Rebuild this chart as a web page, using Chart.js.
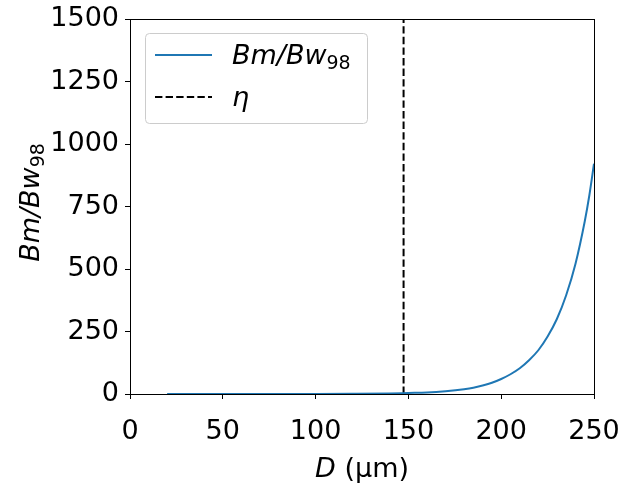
<!DOCTYPE html>
<html>
<head>
<meta charset="utf-8">
<script src="https://cdn.jsdelivr.net/npm/chart.js@4"></script>
<style>
  html, body { margin: 0; padding: 0; background: #fff; }
  canvas { display: block; }
</style>
</head>
<body>
<canvas id="grafico" width="623" height="485"></canvas>
<script>
// datos
const diametros = [20, 50, 80, 100, 120, 140, 150, 160, 170, 180, 185, 190, 195, 200, 205, 210, 215, 220, 225, 230, 235, 240, 245, 247.5, 250];
const razonBm = [0, 0, 0.1, 0.2, 0.6, 2, 4, 6, 11, 19, 25, 34, 45, 60, 79, 103, 135, 175, 230, 300, 395, 520, 690, 795, 921];
const etaD = 147.4;
const etaRango = [0, 1500];
const ticksX = [0, 50, 100, 150, 200, 250];
const ticksY = [0, 250, 500, 750, 1000, 1250, 1500];

const FUENTE = "DejaVu Sans";
const AZUL = "#1f77b4";

// textos con cursiva y subindice
function textoBm(ctx, x, y, align) {
  ctx.font = "italic 27px '" + FUENTE + "'";
  const w1 = ctx.measureText("Bm/Bw").width;
  ctx.font = "19px '" + FUENTE + "'";
  const w2 = ctx.measureText("98").width;
  let x0 = x;
  if (align === "center") x0 = x - (w1 + w2) / 2;
  ctx.textAlign = "left";
  ctx.textBaseline = "alphabetic";
  ctx.font = "italic 27px '" + FUENTE + "'";
  ctx.fillText("Bm/Bw", x0, y);
  ctx.font = "19px '" + FUENTE + "'";
  ctx.fillText("98", x0 + w1, y + 5);
}

const extras = {
  id: "extras",
  afterDraw(chart) {
    const ctx = chart.ctx;
    const a = chart.chartArea;
    ctx.save();
    ctx.fillStyle = "#000";

    // marco
    ctx.strokeStyle = "#000";
    ctx.lineWidth = 1;
    ctx.strokeRect(Math.round(a.left) + 0.5, Math.round(a.top) + 0.5,
      Math.round(a.right - a.left), Math.round(a.bottom - a.top));

    // titulo eje x
    ctx.textBaseline = "alphabetic";
    ctx.font = "italic 27px '" + FUENTE + "'";
    const wD = ctx.measureText("D").width;
    ctx.font = "27px '" + FUENTE + "'";
    const wR = ctx.measureText(" (\u00b5m)").width;
    const cx = (a.left + a.right) / 2;
    let x0 = cx - (wD + wR) / 2;
    ctx.textAlign = "left";
    ctx.font = "italic 27px '" + FUENTE + "'";
    ctx.fillText("D", x0, 477);
    ctx.font = "27px '" + FUENTE + "'";
    ctx.fillText(" (\u00b5m)", x0 + wD, 477);

    // titulo eje y
    ctx.save();
    ctx.translate(39, (a.top + a.bottom) / 2 - 4);
    ctx.rotate(-Math.PI / 2);
    textoBm(ctx, 0, 0, "center");
    ctx.restore();

    // leyenda
    const lx = a.left + 15, ly = a.top + 14, lw = 222, lh = 90;
    ctx.beginPath();
    ctx.roundRect(lx + 0.5, ly + 0.5, lw, lh, 4);
    ctx.fillStyle = "rgba(255,255,255,0.8)";
    ctx.fill();
    ctx.strokeStyle = "#cccccc";
    ctx.lineWidth = 1;
    ctx.stroke();

    ctx.lineWidth = 2;
    ctx.strokeStyle = AZUL;
    ctx.beginPath();
    ctx.moveTo(lx + 10, ly + 22);
    ctx.lineTo(lx + 67, ly + 22);
    ctx.stroke();

    ctx.strokeStyle = "#000";
    ctx.setLineDash([7.4, 3.2]);
    ctx.beginPath();
    ctx.moveTo(lx + 10, ly + 64);
    ctx.lineTo(lx + 67, ly + 64);
    ctx.stroke();
    ctx.setLineDash([]);

    ctx.fillStyle = "#000";
    textoBm(ctx, lx + 87, ly + 31, "left");
    ctx.font = "italic 27px '" + FUENTE + "'";
    ctx.textAlign = "left";
    ctx.fillText("\u03b7", lx + 87, ly + 73);

    ctx.restore();
  }
};

const ctx = document.getElementById("grafico").getContext("2d");
new Chart(ctx, {
  type: "line",
  data: {
    datasets: [
      {
        label: "Bm/Bw98",
        data: diametros.map((d, i) => ({ x: d, y: razonBm[i] })),
        borderColor: AZUL,
        borderWidth: 2,
        pointRadius: 0,
        cubicInterpolationMode: "monotone",
        fill: false
      },
      {
        label: "eta",
        data: etaRango.map(v => ({ x: etaD, y: v })),
        borderColor: "#000",
        borderWidth: 2,
        borderDash: [7.4, 3.2],
        pointRadius: 0,
        fill: false
      }
    ]
  },
  options: {
    responsive: false,
    devicePixelRatio: 1,
    animation: false,
    layout: { padding: { top: 19, right: 29, left: 0, bottom: 0 } },
    plugins: { legend: { display: false }, tooltip: { enabled: false } },
    scales: {
      x: {
        type: "linear",
        min: 0,
        max: 250,
        afterFit: s => { s.height = 91; s.paddingLeft = 0; s.paddingRight = 0; },
        afterBuildTicks: s => { s.ticks = ticksX.map(v => ({ value: v })); },
        grid: { drawOnChartArea: false, drawTicks: true, tickLength: 5, tickColor: "#000" },
        border: { color: "#000" },
        ticks: { color: "#000", padding: 17, maxRotation: 0, font: { family: FUENTE, size: 27 }, callback: v => String(v) }
      },
      y: {
        min: 0,
        max: 1500,
        afterFit: s => { s.width = 130; s.paddingTop = 0; s.paddingBottom = 0; },
        afterBuildTicks: s => { s.ticks = ticksY.map(v => ({ value: v })); },
        grid: { drawOnChartArea: false, drawTicks: true, tickLength: 5, tickColor: "#000" },
        border: { color: "#000" },
        ticks: { color: "#000", padding: 6, font: { family: FUENTE, size: 27 }, callback: v => String(v) }
      }
    }
  },
  plugins: [extras]
});
</script>
</body>
</html>
